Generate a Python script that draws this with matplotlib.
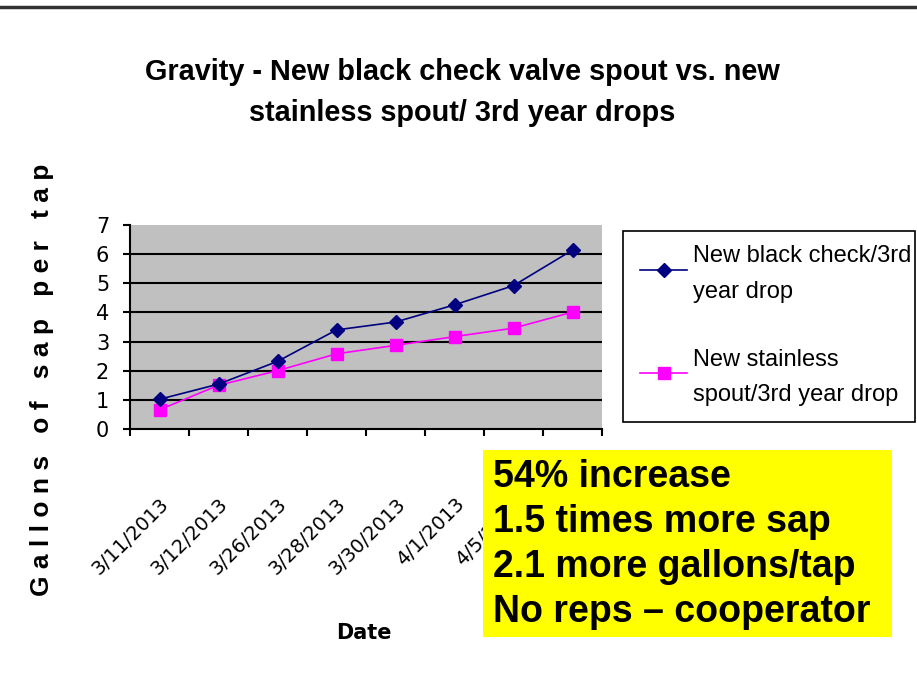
import matplotlib
matplotlib.use("Agg")
import matplotlib.pyplot as plt
from matplotlib.lines import Line2D
from matplotlib.patches import Rectangle

dates = ["3/11/2013", "3/12/2013", "3/26/2013", "3/28/2013",
         "3/30/2013", "4/1/2013", "4/5/2013", "4/8/2013"]
black_check = [1.02, 1.54, 2.32, 3.40, 3.67, 4.26, 4.92, 6.14]
stainless = [0.66, 1.50, 2.00, 2.58, 2.87, 3.17, 3.46, 4.01]
labels = ["New black check/3rd\nyear drop", "New stainless\nspout/3rd year drop"]
notes = ["54% increase", "1.5 times more sap",
         "2.1 more gallons/tap", "No reps \u2013 cooperator"]

W, H = 917, 692
NARROW = ["Liberation Sans Narrow", "DejaVu Sans Condensed", "DejaVu Sans"]
ARIAL = ["Liberation Sans", "DejaVu Sans"]

fig = plt.figure(figsize=(W / 100, H / 100), dpi=100)
fig.patch.set_facecolor("white")


def fx(px):
    return px / W


def fy(py):
    return 1 - py / H


# plot area in pixels: x 130..602, y 225..429
ax = fig.add_axes([fx(130), fy(429), fx(602) - fx(130), fy(225) - fy(429)])
ax.set_facecolor("#C0C0C0")

x = list(range(len(dates)))
ax.plot(x, black_check, color="#000080", lw=1.2, marker="D", ms=7,
        mfc="#000080", mec="#000080", label=labels[0], zorder=4)
ax.plot(x, stainless, color="#FF00FF", lw=1.2, marker="s", ms=8,
        mfc="#FF00FF", mec="#FF00FF", label=labels[1], zorder=3)

ax.set_xlim(-0.5, len(dates) - 0.5)
ax.set_ylim(0, 7)
ax.set_yticks(range(0, 8))
for v in range(1, 7):
    ax.axhline(v, color="black", lw=1.5, zorder=1)

for s in ["top", "right"]:
    ax.spines[s].set_visible(False)
for s in ["left", "bottom"]:
    ax.spines[s].set_linewidth(1.5)

ax.set_xticks(x)
ax.set_xticklabels(dates, family=NARROW, fontsize=14)
ax.set_xticks([i - 0.5 for i in range(len(dates) + 1)], minor=True)
ax.tick_params(axis="x", which="major", length=0, pad=47)
ax.tick_params(axis="x", which="minor", length=5, width=1.5, direction="out")
plt.setp(ax.get_xticklabels(), rotation=45, ha="right", rotation_mode="anchor")
ax.tick_params(axis="y", length=5, width=1.5, direction="out", pad=10)
for t in ax.get_yticklabels():
    t.set_family(NARROW)
    t.set_fontsize(15)

fig.text(fx(462), fy(72), "Gravity - New black check valve spout vs. new",
         ha="center", va="center", family=ARIAL, fontweight="bold", fontsize=20.8)
fig.text(fx(462), fy(113), "stainless spout/ 3rd year drops",
         ha="center", va="center", family=ARIAL, fontweight="bold", fontsize=20.8)

fig.text(fx(364), fy(633), "Date", ha="center", va="center",
         family=NARROW, fontweight="bold", fontsize=15)

ylab = "   ".join(" ".join(w) for w in "Gallons of sap per tap".split())
fig.text(fx(42), fy(380), ylab, rotation=90, ha="center", va="center",
         family=ARIAL, fontweight="bold", fontsize=19)

# legend box (drawn separately so the frame sits where the reference has it)
fig.patches.append(Rectangle((fx(623), fy(422)), fx(915) - fx(623),
                             fy(231) - fy(422), transform=fig.transFigure,
                             facecolor="white", edgecolor="black", lw=1.2,
                             zorder=2))
leg = fig.legend(loc="upper left", bbox_to_anchor=(fx(640), fy(245)),
                 prop={"family": ARIAL, "size": 17}, frameon=False,
                 handlelength=2.0, handleheight=1.9, handletextpad=0.25,
                 labelspacing=1.95, borderpad=0, borderaxespad=0)
for t in leg.get_texts():
    t.set_linespacing(1.8)

# yellow note box
fig.patches.append(Rectangle((fx(483), fy(637)), fx(892) - fx(483),
                             fy(450) - fy(637), transform=fig.transFigure,
                             facecolor="#FFFF00", edgecolor="none", zorder=5))
for i, line in enumerate(notes):
    fig.text(fx(493), fy(487 + 45 * i), line, ha="left", va="baseline",
             family=ARIAL, fontweight="bold", fontsize=27, zorder=6)

# top border line
fig.add_artist(Line2D([0, 1], [fy(6.5), fy(6.5)], transform=fig.transFigure,
                      color="#333333", lw=2.5))

fig.savefig("out.png", dpi=100)
